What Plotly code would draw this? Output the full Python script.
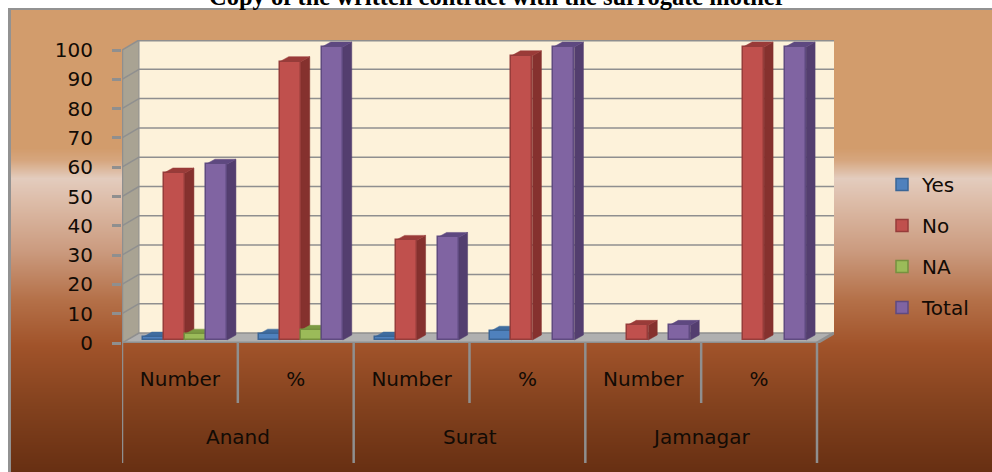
import base64, struct, zlib
import plotly.graph_objects as go

# ---- data ----
groups = ["Anand", "Surat", "Jamnagar"]
categories = ["Number", "%", "Number", "%", "Number", "%"]
yes = [1, 2, 1, 3, None, None]
no = [57, 95, 34, 97, 5, 100]
na = [2, 3.3, None, None, None, None]
total = [60, 100, 35, 100, 5, 100]
series_names = ["Yes", "No", "NA", "Total"]
y_ticks = list(range(0, 101, 10))
title_text = "Copy of the written contract with the surrogate mother"

front_colors = ["#4F81BD", "#C0504D", "#9BBB59", "#8064A2"]
line_colors = ["#3A6596", "#963C3A", "#76913F", "#5F4A80"]
side_colors = ["#345A88", "#85312E", "#6C8A38", "#533E6F"]
top_colors = ["#3F6C9F", "#9A3B38", "#7C9B43", "#5E4880"]

# ---- geometry (pixel layout of the page) ----
W, H = 992, 472
L, R, T, B = 122, 834, 40, 343
px_per_cat = 115.8
px_per_unit = 2.93
DX = 17 / px_per_cat
DY = 10 / px_per_unit
front_off = (5 / px_per_cat, 3 / px_per_unit)
bar_depth = (9 / px_per_cat, 5 / px_per_unit)
bar_w = 21 / px_per_cat


def py(y):
    return (B - y) / (B - T)


# ---- background gradient as a PNG ----
stops = [(10, "#D29C6C"), (148, "#D29C6C"),
         (160, "#D6A67E"), (178, "#E3CCBE"), (200, "#DDBDA9"), (250, "#CB9B7F"),
         (300, "#B47048"), (345, "#A1532A"), (400, "#85431F"), (472, "#672F12")]


def rgb(h):
    return tuple(int(h[i:i + 2], 16) for i in (1, 3, 5))


def colour_at(y):
    for (a, ca), (b, cb) in zip(stops, stops[1:]):
        if a <= y <= b:
            t = (y - a) / max(b - a, 1)
            return bytes(round(p + (q - p) * t) for p, q in zip(rgb(ca), rgb(cb)))
    return bytes(rgb(stops[-1][1]))


def chunk(tag, data):
    return struct.pack(">I", len(data)) + tag + data + struct.pack(">I", zlib.crc32(tag + data))


WHITE = b"\xff\xff\xff"
EDGE = b"\x92\x92\x92"
rows = []
for y in range(H):
    if y < 8:
        rows.append(b"\x00" + WHITE * W)
    elif y < 10:
        rows.append(b"\x00" + WHITE * 8 + EDGE * (W - 8))
    else:
        rows.append(b"\x00" + WHITE * 8 + EDGE * 3 + colour_at(y) * (W - 11))
raw = b"".join(rows)
png = (b"\x89PNG\r\n\x1a\n" + chunk(b"IHDR", struct.pack(">IIBBBBB", W, H, 8, 2, 0, 0, 0))
       + chunk(b"IDAT", zlib.compress(raw)) + chunk(b"IEND", b""))
bg_uri = "data:image/png;base64," + base64.b64encode(png).decode()

fig = go.Figure()
x_centers = [i + 0.5 for i in range(len(categories))]
all_series = [yes, no, na, total]

shapes = []
GRID = "#8F8F8F"
# walls
shapes.append(dict(type="rect", x0=DX, x1=6 + DX, y0=DY, y1=100 + DY, xref="x", yref="y",
                   fillcolor="#FDF2DA", line_width=0, layer="below"))
shapes.append(dict(type="path", path=f"M 0 0 L {DX} {DY} L {DX} {100 + DY} L 0 100 Z", xref="x", yref="y",
                   fillcolor="#A9A393", line_width=0, layer="below"))
shapes.append(dict(type="path", path=f"M 0 0 L 6 0 L {6 + DX} {DY} L {DX} {DY} Z", xref="x", yref="y",
                   fillcolor="#B0B0B0", line_width=0, layer="below"))
# gridlines across walls
for v in y_ticks:
    shapes.append(dict(type="line", x0=DX, x1=6 + DX, y0=v + DY, y1=v + DY, xref="x", yref="y",
                       line=dict(color=GRID, width=3 if v == 100 else 1.5), layer="below"))
    shapes.append(dict(type="line", x0=0, x1=DX, y0=v, y1=v + DY, xref="x", yref="y",
                       line=dict(color=GRID, width=1.5), layer="below"))
shapes.append(dict(type="line", x0=DX, x1=DX, y0=DY, y1=100 + DY, xref="x", yref="y",
                   line=dict(color=GRID, width=1), layer="below"))
shapes.append(dict(type="line", x0=0, x1=0, y0=0, y1=100, xref="x", yref="y",
                   line=dict(color=GRID, width=2.5), layer="below"))
shapes.append(dict(type="line", x0=0, x1=6, y0=0, y1=0, xref="x", yref="y",
                   line=dict(color=GRID, width=3), layer="below"))
shapes.append(dict(type="line", x0=6, x1=6 + DX, y0=0, y1=DY, xref="x", yref="y",
                   line=dict(color=GRID, width=3), layer="below"))
# category separators
for i in range(len(categories) + 1):
    long_line = i % 2 == 0
    shapes.append(dict(type="line", x0=i, x1=i, y0=py(B), y1=py(463 if long_line else 403),
                       xref="x", yref="paper", line=dict(color=GRID, width=2.5), layer="below"))

# bars: side + top polygons then the front, series by series from left to right
for k, (name, vals) in enumerate(zip(series_names, all_series)):
    offs = -2 * bar_w + k * bar_w + front_off[0]
    sx, sy, tx, ty = [], [], [], []
    xs = []
    for c, v in zip(x_centers, vals):
        x0 = c + offs
        xs.append(x0 + bar_w / 2)
        if v is None:
            continue
        x1 = x0 + bar_w
        b0 = front_off[1]
        h = v + b0
        sx += [x1, x1 + bar_depth[0], x1 + bar_depth[0], x1, x1, None]
        sy += [b0, b0 + bar_depth[1], h + bar_depth[1], h, b0, None]
        tx += [x0, x0 + bar_depth[0], x1 + bar_depth[0], x1, x0, None]
        ty += [h, h + bar_depth[1], h + bar_depth[1], h, h, None]
    fig.add_trace(go.Scatter(x=sx, y=sy, mode="lines", fill="toself", fillcolor=side_colors[k],
                             line=dict(color=side_colors[k], width=0.5), showlegend=False,
                             hoverinfo="skip", zorder=2 * k + 1))
    fig.add_trace(go.Scatter(x=tx, y=ty, mode="lines", fill="toself", fillcolor=top_colors[k],
                             line=dict(color=top_colors[k], width=0.5), showlegend=False,
                             hoverinfo="skip", zorder=2 * k + 1))
    fig.add_trace(go.Bar(x=xs, y=vals, base=front_off[1], width=bar_w, name=name, legendgroup=name,
                         marker=dict(color=front_colors[k], line=dict(color=line_colors[k], width=1.5)),
                         zorder=2 * k + 2))

annotations = [dict(text=f"<b>{title_text}</b>", x=(497 - L) / (R - L), xref="paper", y=py(-3), yref="paper",
                    showarrow=False, font=dict(family="Liberation Serif", size=24.5, color="#000000"),
                    yanchor="middle", xanchor="center")]
for j, g in enumerate(groups):
    annotations.append(dict(text=g, x=2 * j + 1, xref="x", y=py(437), yref="paper", showarrow=False,
                            font=dict(family="DejaVu Sans", size=20, color="#120B05"),
                            xanchor="center", yanchor="middle"))

fig.update_layout(
    width=W, height=H, autosize=False,
    margin=dict(l=L, r=W - R, t=T, b=H - B, pad=0),
    paper_bgcolor="rgba(0,0,0,0)", plot_bgcolor="rgba(0,0,0,0)",
    barmode="overlay", bargap=0,
    shapes=shapes, annotations=annotations,
    images=[dict(source=bg_uri, xref="paper", yref="paper", x=-L / (R - L), y=B / (B - T),
                 sizex=W / (R - L), sizey=H / (B - T), sizing="stretch", xanchor="left", yanchor="top",
                 layer="below")],
    legend=dict(x=(882 - L) / (R - L), xanchor="left", y=py(165), yanchor="top", tracegroupgap=12,
                bgcolor="rgba(0,0,0,0)", font=dict(family="DejaVu Sans", size=20, color="#120B05"),
                itemwidth=30),
    xaxis=dict(range=[0, 6 + DX], tickvals=x_centers, ticktext=categories, showgrid=False, zeroline=False,
               ticks="", showline=False, ticklabelstandoff=22,
               tickfont=dict(family="DejaVu Sans", size=20, color="#120B05")),
    yaxis=dict(range=[0, 100 + DY], tickvals=y_ticks, showgrid=False, zeroline=False, ticks="outside",
               ticklen=9, tickwidth=2.5, tickcolor=GRID, showline=False, ticklabelstandoff=15,
               tickfont=dict(family="DejaVu Sans", size=20, color="#120B05")),
)
fig.write_html("out.html", config={"displayModeBar": False},
               post_script="document.body.style.margin='0';document.body.style.overflow='hidden';")
